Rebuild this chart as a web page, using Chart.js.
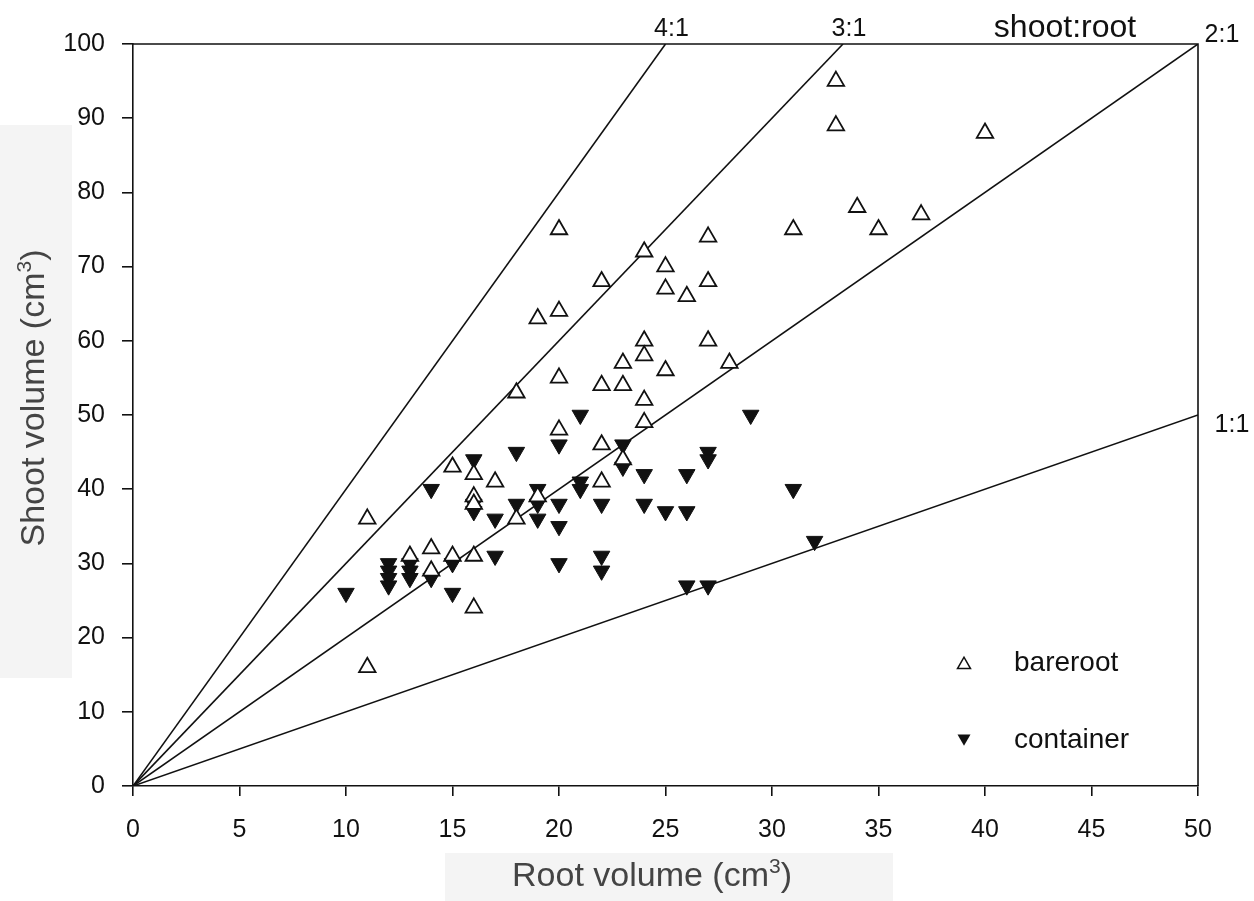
<!DOCTYPE html>
<html>
<head>
<meta charset="utf-8">
<script src="https://cdn.jsdelivr.net/npm/chart.js@4/dist/chart.umd.min.js"></script>
<style>
  html, body { margin: 0; padding: 0; background: #fff; }
  #wrap { width: 1254px; height: 901px; position: relative; }
</style>
</head>
<body>
<div id="wrap"><canvas id="chart"></canvas></div>
<script>
// root volume (x) and shoot volume (y), cm3
const bareX = [11, 11, 13, 14, 14, 15, 15, 16, 16, 16, 16, 16, 17, 18, 18, 19, 19,
  20, 20, 20, 20, 22, 22, 22, 22, 23, 23, 23, 24, 24, 24, 24, 24, 25, 25, 25, 26,
  27, 27, 27, 28, 31, 33, 33, 34, 35, 37, 40];
const bareY = [36, 16, 31, 32, 29, 43, 31, 42, 39, 38, 31, 24, 41, 53, 36, 63, 39,
  75, 64, 55, 48, 68, 54, 46, 41, 57, 54, 44, 72, 60, 58, 52, 49, 70, 67, 56, 66,
  74, 68, 60, 57, 75, 95, 89, 78, 75, 77, 88];

const contX = [10, 12, 12, 12, 12, 13, 13, 13, 14, 14, 15, 15, 16, 16, 16, 17, 17,
  18, 18, 19, 19, 19, 20, 20, 20, 20, 21, 21, 21, 22, 22, 22, 23, 23, 24, 24, 25,
  26, 26, 26, 27, 27, 27, 29, 31, 32];
const contY = [26, 30, 29, 28, 27, 30, 29, 28, 40, 28, 30, 26, 44, 38, 37, 36, 31,
  45, 38, 40, 38, 36, 46, 38, 35, 30, 50, 41, 40, 38, 31, 29, 46, 43, 42, 38, 37,
  42, 37, 27, 45, 44, 27, 50, 40, 33];

// shoot:root reference lines
const ratios = [4, 3, 2, 1];
const ratioLabels = ['4:1', '3:1', '2:1', '1:1'];

const xMax = 50;
const yMax = 100;

const toPoints = (xs, ys) => xs.map((x, i) => ({ x: x, y: ys[i] }));

const FONT = '"Liberation Sans", Arial, Helvetica, sans-serif';

const ratioSets = ratios.map((k, i) => {
  const xEnd = Math.min(xMax, yMax / k);
  return {
    type: 'line',
    label: ratioLabels[i],
    data: [{ x: 0, y: 0 }, { x: xEnd, y: xEnd * k }],
    borderColor: '#111',
    borderWidth: 1.6,
    pointRadius: 0,
    fill: false
  };
});

// text with a small raised "3" for cm3
function cmTitle(ctx, text, x, y) {
  const big = '34px ' + FONT, small = '21px ' + FONT;
  ctx.font = big;
  const w1 = ctx.measureText(text).width;
  const w2 = ctx.measureText(')').width;
  ctx.font = small;
  const w3 = ctx.measureText('3').width;
  let sx = x - (w1 + w2 + w3) / 2;
  ctx.textAlign = 'left';
  ctx.textBaseline = 'middle';
  ctx.font = big;
  ctx.fillText(text, sx, y);
  sx += w1;
  ctx.font = small;
  ctx.fillText('3', sx, y - 10);
  sx += w3;
  ctx.font = big;
  ctx.fillText(')', sx, y);
}

// grey boxes behind the axis titles, frame, titles, ratio labels and legend
const decor = {
  id: 'decor',
  beforeDraw(chart) {
    const ctx = chart.ctx;
    ctx.save();
    ctx.fillStyle = '#f4f4f4';
    ctx.fillRect(0, 125, 72, 553);
    ctx.fillRect(445, 853, 448, 48);
    ctx.restore();
  },
  afterDraw(chart) {
    const ctx = chart.ctx;
    const a = chart.chartArea;
    const xs = chart.scales.x;
    const ys = chart.scales.y;
    ctx.save();
    ctx.strokeStyle = '#111';
    ctx.lineWidth = 1.6;
    ctx.beginPath();
    ctx.moveTo(a.left, a.top);
    ctx.lineTo(a.right, a.top);
    ctx.lineTo(a.right, a.bottom);
    ctx.stroke();

    // axis titles
    ctx.fillStyle = '#444';
    cmTitle(ctx, 'Root volume (cm', 652, 877);
    ctx.save();
    ctx.translate(35, 398);
    ctx.rotate(-Math.PI / 2);
    cmTitle(ctx, 'Shoot volume (cm', 0, 0);
    ctx.restore();

    ctx.fillStyle = '#111';
    ctx.font = '25px ' + FONT;
    ctx.textAlign = 'center';
    ctx.textBaseline = 'middle';
    ratios.forEach((k, i) => {
      const xEnd = Math.min(xMax, yMax / k);
      const px = xs.getPixelForValue(xEnd);
      const py = ys.getPixelForValue(xEnd * k);
      if (xEnd * k >= yMax && xEnd < xMax) {
        ctx.fillText(ratioLabels[i], px + 6, py - 15);
      } else if (xEnd * k >= yMax) {
        ctx.fillText(ratioLabels[i], px + 24, py - 9);
      } else {
        ctx.fillText(ratioLabels[i], px + 34, py + 10);
      }
    });
    ctx.font = '32px ' + FONT;
    ctx.fillText('shoot:root', 1065, 28);

    // legend
    const items = [
      { label: 'bareroot', filled: false, y: 663 },
      { label: 'container', filled: true, y: 740 }
    ];
    ctx.font = '28px ' + FONT;
    ctx.textAlign = 'left';
    items.forEach(it => {
      const cx = 964, s = 6.5;
      ctx.beginPath();
      if (it.filled) {
        ctx.moveTo(cx - s, it.y - s * 0.85);
        ctx.lineTo(cx + s, it.y - s * 0.85);
        ctx.lineTo(cx, it.y + s * 0.9);
      } else {
        ctx.moveTo(cx - s, it.y + s * 0.85);
        ctx.lineTo(cx + s, it.y + s * 0.85);
        ctx.lineTo(cx, it.y - s * 0.9);
      }
      ctx.closePath();
      ctx.lineWidth = 1.5;
      if (it.filled) {
        ctx.fill();
      } else {
        ctx.fillStyle = '#fff';
        ctx.fill();
        ctx.stroke();
        ctx.fillStyle = '#111';
      }
      ctx.fillText(it.label, 1014, it.y);
    });
    ctx.restore();
  }
};

new Chart(document.getElementById('chart'), {
  type: 'scatter',
  data: {
    datasets: [
      {
        label: 'bareroot',
        data: toPoints(bareX, bareY),
        pointStyle: 'triangle',
        pointRadius: 9.5,
        pointBackgroundColor: '#fff',
        pointBorderColor: '#111',
        pointBorderWidth: 1.8
      },
      {
        label: 'container',
        data: toPoints(contX, contY),
        pointStyle: 'triangle',
        rotation: 180,
        pointRadius: 9.5,
        pointBackgroundColor: '#111',
        pointBorderColor: '#111',
        pointBorderWidth: 1
      },
      ...ratioSets
    ]
  },
  options: {
    responsive: true,
    maintainAspectRatio: false,
    animation: false,
    layout: {
      padding: { top: 44, right: 56, left: 0, bottom: 0 }
    },
    plugins: {
      legend: { display: false },
      tooltip: { enabled: false }
    },
    scales: {
      x: {
        type: 'linear',
        min: 0,
        max: xMax,
        afterFit: scale => { scale.height = 115; },
        border: { display: true, color: '#111', width: 1.6 },
        grid: { drawOnChartArea: false, drawTicks: true, tickLength: 10, color: '#111', lineWidth: 1.6 },
        ticks: {
          stepSize: 5,
          color: '#111',
          padding: 19,
          font: { family: FONT, size: 25 }
        }
      },
      y: {
        type: 'linear',
        min: 0,
        max: yMax,
        afterFit: scale => { scale.width = 133; },
        border: { display: true, color: '#111', width: 1.6 },
        grid: { drawOnChartArea: false, drawTicks: true, tickLength: 11, color: '#111', lineWidth: 1.6 },
        ticks: {
          stepSize: 10,
          color: '#111',
          padding: 17,
          font: { family: FONT, size: 25 }
        }
      }
    }
  },
  plugins: [decor]
});
</script>
</body>
</html>
